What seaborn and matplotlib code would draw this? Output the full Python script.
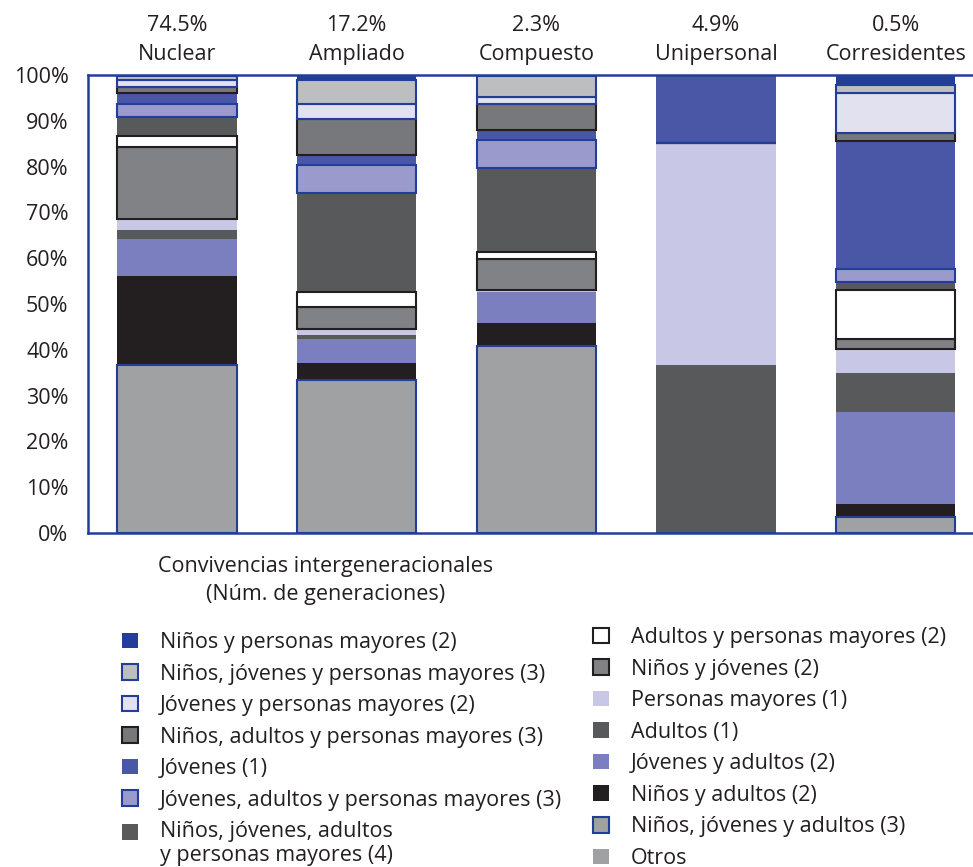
import numpy as np
import pandas as pd
import matplotlib
matplotlib.use("Agg")
import matplotlib.pyplot as plt
from matplotlib.patches import Patch
from matplotlib.legend_handler import HandlerPatch
import seaborn as sns

sns.set_theme(style="white")
plt.rcParams['font.family'] = ['Open Sans', 'DejaVu Sans']

# ---------------- data ----------------
categories = ["Nuclear", "Ampliado", "Compuesto", "Unipersonal", "Corresidentes"]
shares = ["74.5%", "17.2%", "2.3%", "4.9%", "0.5%"]

# stack order bottom -> top
series_names = [
    "Otros",
    "Niños, jóvenes y adultos (3)",
    "Niños y adultos (2)",
    "Jóvenes y adultos (2)",
    "Adultos (1)",
    "Personas mayores (1)",
    "Niños y jóvenes (2)",
    "Adultos y personas mayores (2)",
    "Niños, jóvenes, adultos\ny personas mayores (4)",
    "Jóvenes, adultos y personas mayores (3)",
    "Jóvenes (1)",
    "Niños, adultos y personas mayores (3)",
    "Jóvenes y personas mayores (2)",
    "Niños, jóvenes y personas mayores (3)",
    "Niños y personas mayores (2)",
]

otros      = [0.0, 0.0, 0.0, 0.0, 0.0]
n_j_a      = [36.7, 33.4, 40.8, 0.0, 3.6]
n_a        = [19.5, 3.7, 5.0, 0.0, 2.7]
j_a        = [8.1, 5.3, 6.8, 0.0, 20.2]
adultos    = [1.9, 0.8, 0.0, 36.7, 8.4]
mayores    = [2.3, 1.3, 0.5, 48.5, 5.2]
n_j        = [15.7, 4.8, 6.7, 0.0, 2.3]
a_pm       = [2.5, 3.3, 1.5, 0.0, 10.7]
n_j_a_pm   = [4.2, 21.7, 18.5, 0.0, 1.6]
j_a_pm     = [2.7, 6.0, 5.9, 0.0, 2.9]
jovenes    = [2.4, 2.2, 2.4, 14.8, 28.0]
n_a_pm     = [1.4, 8.0, 5.5, 0.0, 1.7]
j_pm       = [1.4, 3.2, 1.6, 0.0, 8.7]
n_j_pm     = [1.0, 5.1, 4.6, 0.0, 1.8]
n_pm       = [0.2, 1.2, 0.2, 0.0, 2.2]

series_values = [otros, n_j_a, n_a, j_a, adultos, mayores, n_j, a_pm,
                 n_j_a_pm, j_a_pm, jovenes, n_a_pm, j_pm, n_j_pm, n_pm]

BLUE = "#233e99"
BLK = "#231f20"
fills = ["#a0a1a3", "#a0a1a3", "#231f20", "#7b7fbf", "#58595b", "#c8c8e6",
         "#808285", "#ffffff", "#58595b", "#9a9acc", "#4a56a6", "#77787b",
         "#e1e1f0", "#bcbec0", BLUE]
edges = [None, BLUE, None, None, None, None,
         BLK, BLK, None, BLUE, None, BLK,
         BLUE, BLUE, None]

FS = 15.5

# ---------------- figure ----------------
W, H = 973, 867
fig = plt.figure(figsize=(W / 100, H / 100), dpi=100)
ax = fig.add_axes([88 / W, 1 - 533 / H, 1 - 88 / W, (533 - 75) / H])

bottom = np.zeros(len(categories))
for name, vals, fc, ec in zip(series_names, series_values, fills, edges):
    vals = np.array(vals)
    sns.barplot(x=categories, y=vals, bottom=bottom, order=categories,
                color=fc, saturation=1, width=0.663,
                edgecolor=ec if ec else fc,
                linewidth=1.5 if ec else 0.0, ax=ax, zorder=3 if ec else 2)
    bottom = bottom + vals

ax.set_ylim(0, 100)
ax.set_xlim(-0.495, 4.43)
ax.set_yticks(np.arange(0, 101, 10))
ax.set_yticklabels([f"{v}%" for v in range(0, 101, 10)])
ax.set_ylabel("")
ax.set_xlabel("")
ax.xaxis.tick_top()
ax.set_xticks(range(len(categories)))
ax.set_xticklabels([f"{s}\n{c}" for s, c in zip(shares, categories)],
                   linespacing=1.5)
ax.tick_params(axis="both", length=0, labelsize=FS, colors=BLK)
ax.tick_params(axis="y", pad=14)
ax.tick_params(axis="x", pad=7)
for side in ["left", "top", "bottom"]:
    ax.spines[side].set_color(BLUE)
    ax.spines[side].set_linewidth(1.8)
    ax.spines[side].set_zorder(5)
ax.spines["right"].set_visible(False)
ax.grid(False)

fig.text(326 / W, 1 - 580.5 / H, "Convivencias intergeneracionales\n(Núm. de generaciones)",
         ha="center", va="center", fontsize=FS, color=BLK, linespacing=1.4)

# ---------------- legend ----------------
legend_order = series_names[::-1]
fill_map = dict(zip(series_names, fills))
edge_map = dict(zip(series_names, edges))

def handle(name):
    ec = edge_map[name]
    return Patch(facecolor=fill_map[name], edgecolor=ec if ec else fill_map[name],
                 linewidth=1.5 if ec else 0.0)

class TopAligned(HandlerPatch):
    """Place the square next to the first line of a two-line label."""
    def __init__(self, shift, **kw):
        self.shift = shift
        super().__init__(**kw)

    def create_artists(self, legend, orig_handle, xdescent, ydescent,
                       width, height, fontsize, trans):
        arts = super().create_artists(legend, orig_handle, xdescent, ydescent,
                                      width, height, fontsize, trans)
        for a in arts:
            a.set_y(a.get_y() + self.shift)
        return arts

left_names = legend_order[:7]
right_names = legend_order[7:]
common = dict(frameon=False, fontsize=FS, handlelength=0.74, handleheight=0.74,
              handletextpad=1.02, labelspacing=0.49, borderpad=0, borderaxespad=0,
              labelcolor=BLK)
lh = [handle(n) for n in left_names]
fig.legend(lh, left_names, loc="upper left",
           bbox_to_anchor=(122 / W, 1 - 632 / H),
           handler_map={lh[-1]: TopAligned(shift=0.58 * FS)}, **common)
fig.legend([handle(n) for n in right_names], right_names, loc="upper left",
           bbox_to_anchor=(593 / W, 1 - 627 / H), **common)

fig.savefig("out.png", dpi=100)
